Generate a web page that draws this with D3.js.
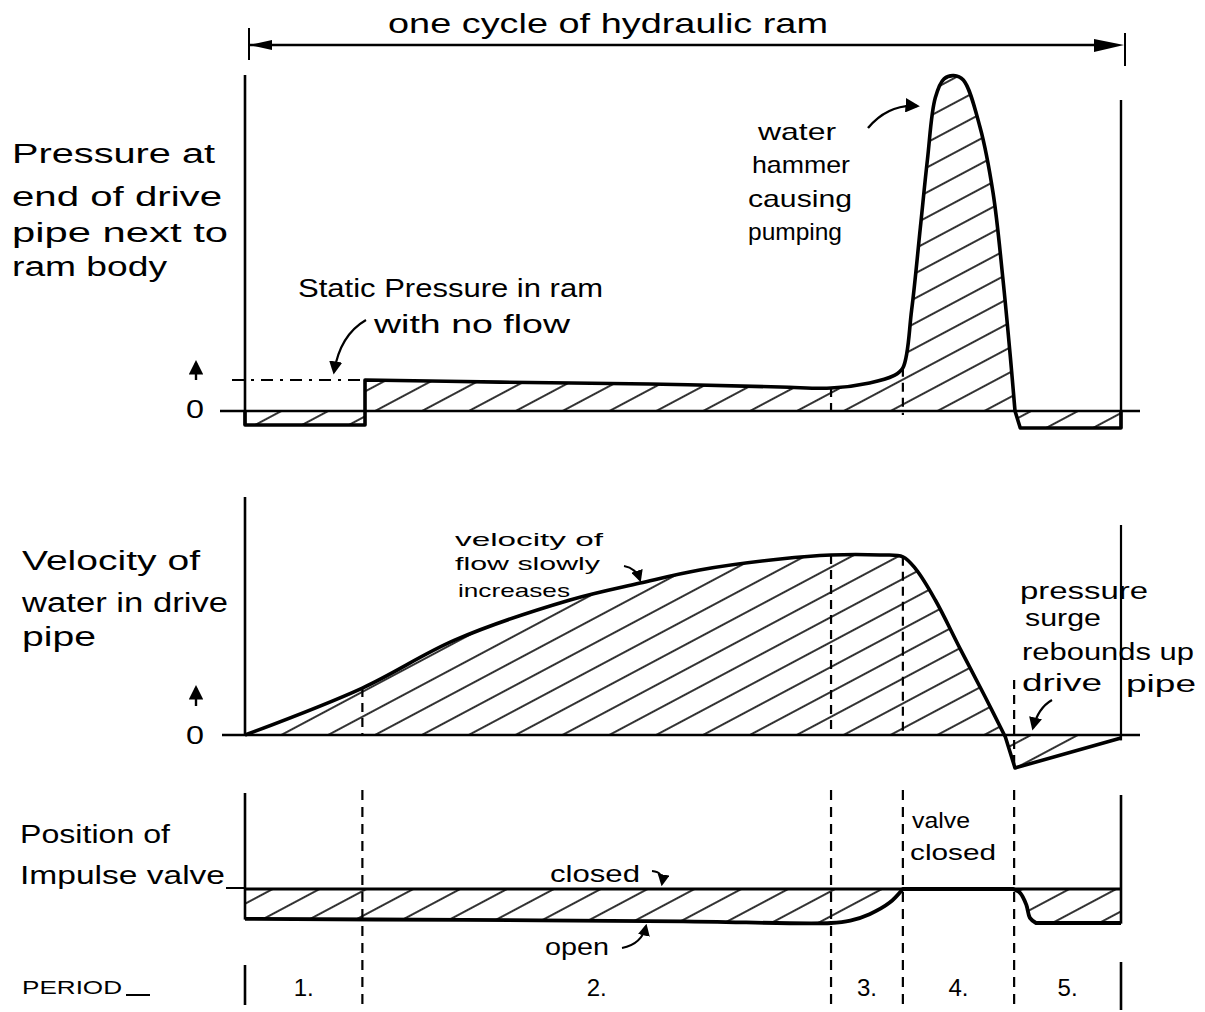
<!DOCTYPE html>
<html><head><meta charset="utf-8">
<script src="https://cdn.jsdelivr.net/npm/d3@7"></script>
<style>body{margin:0;background:#fff}svg{display:block}</style>
</head><body>
<script>
// ---------- data (time in % of one ram cycle) ----------
const periodLabels = ["1.", "2.", "3.", "4.", "5."];
const periodBounds = [0, 13.4, 66.9, 75.1, 87.8, 100];
const staticPressure = 1.15;
const pressureStep = [[0, 0], [0, -0.52], [13.7, -0.52], [13.7, 1.15]];
const pressureCurve = [[13.7, 1.15], [29.1, 1.07], [46.2, 1.0], [61.1, 0.89], [66.9, 0.85], [71.3, 1.04], [74.0, 1.3], [75.1, 1.6], [76.1, 3.74], [77.1, 6.81], [77.9, 9.3], [78.8, 11.6], [79.8, 12.3], [80.9, 12.42], [82.0, 12.26], [83.9, 10.52], [85.4, 8.07], [86.5, 4.96], [87.4, 1.89], [87.9, 0]];
const pressureTail = [[87.9, 0], [88.5, -0.63], [100, -0.63], [100, 0]];
const velocityCurve = [[0, 0], [13.4, 2.61], [24.0, 5.28], [37.1, 7.5], [45.1, 8.44], [51.9, 9.17], [61.1, 9.78], [66.9, 10.0], [72.5, 10.0], [75.1, 9.9], [76.6, 9.2], [78.8, 7.5], [81.6, 4.83], [84.5, 2.11], [86.8, -0.11]];
const velocityTail = [[86.8, -0.11], [87.9, -1.83], [100, -0.17]];
const valveOpen = [[0, 0.88], [25, 0.91], [50, 0.95], [66.9, 1.0], [69.1, 0.93], [71.3, 0.74], [73.6, 0.4], [75.1, 0]];
const valveShut = [[75.1, 0], [87.7, 0]];
const valveDrop = [[87.7, 0], [88.5, 0.12], [89.2, 0.47], [89.6, 0.85], [90.3, 1.0]];
const valveTail = [[90.3, 1.0], [100, 1.0], [100, 0]];

// ---------- layout ----------
const W = 1205, H = 1012;
const svg = d3.select("body").append("svg").attr("width", W).attr("height", H);
const x = d3.scaleLinear().domain([0, 100]).range([245, 1121]);
const yP = d3.scaleLinear().domain([0, 12.5]).range([411, 73.5]);
const yV = d3.scaleLinear().domain([0, 10]).range([735, 555]);
const yS = d3.scaleLinear().domain([0, 1]).range([889, 923]);

const defs = svg.append("defs");
const pat = defs.append("pattern").attr("id", "hatch").attr("patternUnits", "userSpaceOnUse")
  .attr("width", 22).attr("height", 22).attr("patternTransform", "rotate(-28)");
pat.append("line").attr("x1", 0).attr("x2", 22).attr("y1", 11).attr("y2", 11)
  .attr("stroke", "#000").attr("stroke-width", 1.6);
defs.append("marker").attr("id", "arr").attr("viewBox", "0 0 10 10").attr("refX", 8).attr("refY", 5)
  .attr("markerWidth", 6).attr("markerHeight", 6).attr("orient", "auto-start-reverse")
  .append("path").attr("d", "M0,0 L10,5 L0,10 z").attr("fill", "#000");

const FONT = "'Liberation Sans', Arial, sans-serif";
function seg(y, pts, curve) {
  return d3.line().x(d => x(d[0])).y(d => y(d[1])).curve(curve || d3.curveLinear)(pts);
}
function join(parts) { return parts.map((p, i) => i ? p.replace(/^M/, "L") : p).join(""); }
function vline(xp, y1, y2, w, dash) {
  const l = svg.append("line").attr("x1", xp).attr("x2", xp).attr("y1", y1).attr("y2", y2)
    .attr("stroke", "#000").attr("stroke-width", w);
  if (dash) l.attr("stroke-dasharray", dash);
  return l;
}
function hline(x1, x2, yp, w, dash) {
  const l = svg.append("line").attr("x1", x1).attr("x2", x2).attr("y1", yp).attr("y2", yp)
    .attr("stroke", "#000").attr("stroke-width", w);
  if (dash) l.attr("stroke-dasharray", dash);
  return l;
}
function label(t, xp, yp, size, w) {
  const el = svg.append("text").attr("x", xp).attr("y", yp).attr("font-family", FONT)
    .attr("font-size", size).attr("fill", "#000").text(t);
  if (w) el.attr("textLength", w).attr("lengthAdjust", "spacingAndGlyphs");
  return el;
}
function curvedArrow(d, w) {
  svg.append("path").attr("d", d).attr("fill", "none").attr("stroke", "#000")
    .attr("stroke-width", w || 2).attr("marker-end", "url(#arr)");
}
const cat = d3.curveCatmullRom.alpha(0.5);

// ---------- top cycle arrow ----------
hline(249, 1112, 45, 2.5);
vline(249, 28, 60, 2);
vline(1125, 33, 66, 2);
svg.append("path").attr("d", "M249,45 L272,40 L272,50 Z").attr("fill", "#000");
svg.append("path").attr("d", "M1124,45 L1094,39 L1094,52 Z").attr("fill", "#000");
label("one cycle of hydraulic ram", 388, 33, 28, 440);

// ---------- pressure panel ----------
const pPath = join([seg(yP, pressureStep), seg(yP, pressureCurve, cat), seg(yP, pressureTail)]);
svg.append("path").attr("d", pPath + "Z").attr("fill", "url(#hatch)").attr("stroke", "none");
hline(220, 1140, yP(0), 2.5);
vline(x(0), 75, yP(-0.52), 2.6);
vline(x(100), 100, yP(-0.63), 2.4);
hline(232, x(13.7), yP(staticPressure), 2, "12,7,3,7");
[periodBounds[2], periodBounds[3]].forEach(t => {
  const pv = pressureCurve.find(d => d[0] === t)[1];
  vline(x(t), yP(pv), yP(0) + 4, 2.2, "9,6");
});
svg.append("path").attr("d", pPath).attr("fill", "none").attr("stroke", "#000")
  .attr("stroke-width", 3.6).attr("stroke-linejoin", "round");

["Pressure at", "end  of drive", "pipe next to", "ram body"].forEach((t, i) => {
  label(t, 12, [163, 206, 242, 276][i], 27, [203, 210, 216, 155][i]);
});
label("Static Pressure in ram", 298, 297, 26, 305);
label("with no flow", 374, 333, 26, 196);
curvedArrow("M366,320 Q340,335 334,372", 2.2);
["water", "hammer", "causing", "pumping"].forEach((t, i) => {
  label(t, [758, 752, 748, 748][i], [140, 173, 207, 240][i], 24, [78, 98, 104, 94][i]);
});
curvedArrow("M868,128 Q888,104 917,106", 2.4);
vline(196, 363, 380, 2.4).attr("marker-start", "url(#arr)");
label("0", 186, 418, 26, 18);

// ---------- velocity panel ----------
const vPath = join([seg(yV, velocityCurve, cat), seg(yV, velocityTail)]);
svg.append("path").attr("d", vPath + "L" + x(100) + "," + yV(0) + "Z").attr("fill", "url(#hatch)").attr("stroke", "none");
hline(222, 1140, yV(0), 2.5);
vline(x(0), 497, yV(0), 2.6);
vline(x(100), 525, yV(-0.3), 2.2);
[periodBounds[1], periodBounds[2], periodBounds[3]].forEach(t => {
  const vv = velocityCurve.find(d => d[0] === t)[1];
  vline(x(t), yV(vv), yV(0), 2.2, "9,6");
});
vline(x(periodBounds[4]), 680, yV(-1.75), 2.2, "9,6");
svg.append("path").attr("d", vPath).attr("fill", "none").attr("stroke", "#000")
  .attr("stroke-width", 3.6).attr("stroke-linejoin", "round");

["Velocity of", "water in drive", "pipe"].forEach((t, i) => {
  label(t, 22, [570, 612, 646][i], 27, [178, 206, 74][i]);
});
["velocity of", "flow slowly", "increases"].forEach((t, i) => {
  label(t, [455, 455, 458][i], [546, 570, 597][i], 19, [148, 145, 112][i]);
});
curvedArrow("M624,566 Q636,568 640,580", 2);
label("pressure", 1020, 599, 23, 128);
label("surge", 1025, 626, 23, 76);
label("rebounds up", 1022, 660, 23, 172);
label("drive", 1022, 691, 23, 80);
label("pipe", 1126, 692, 23, 70);
curvedArrow("M1052,700 Q1038,708 1033,728", 2.2);
vline(196, 688, 706, 2.4).attr("marker-start", "url(#arr)");
label("0", 186, 744, 26, 18);

// ---------- impulse valve panel ----------
const sPath = join([seg(yS, [[0, 0], [0, 0.88]]), seg(yS, valveOpen, cat), seg(yS, valveShut), seg(yS, valveDrop, cat), seg(yS, valveTail)]);
svg.append("path").attr("d", sPath + "Z").attr("fill", "url(#hatch)").attr("stroke", "none");
vline(x(0), 793, yS(0.9), 2.6);
vline(x(100), 795, yS(1.02), 2.6);
hline(x(0), x(100), yS(0), 3.2);
svg.append("path").attr("d", join([seg(yS, valveOpen, cat), seg(yS, valveShut), seg(yS, valveDrop, cat), seg(yS, valveTail.slice(0, 2))]))
  .attr("fill", "none").attr("stroke", "#000").attr("stroke-width", 3.8).attr("stroke-linejoin", "round");
periodBounds.slice(1, 5).forEach(t => vline(x(t), 790, 1008, 2.2, "10,7"));

label("Position of", 20, 843, 26, 150);
label("Impulse valve", 20, 884, 26, 205);
hline(226, x(0), yS(0) - 1, 2);
label("valve", 912, 828, 22, 58);
label("closed", 910, 860, 22, 86);
label("closed", 550, 882, 24, 90);
curvedArrow("M652,871 Q664,872 662,884", 2);
label("open", 545, 955, 24, 64);
curvedArrow("M622,948 Q642,944 646,926", 2);

// ---------- periods row ----------
label("PERIOD", 22, 994, 18, 100);
hline(126, 150, 995, 2);
vline(x(0), 965, 1005, 2.6);
vline(x(100), 962, 1010, 2.6);
periodLabels.forEach((p, i) => {
  const c = (x(periodBounds[i]) + x(periodBounds[i + 1])) / 2;
  label(p, c, 996, 24).attr("text-anchor", "middle");
});
</script>
</body></html>
